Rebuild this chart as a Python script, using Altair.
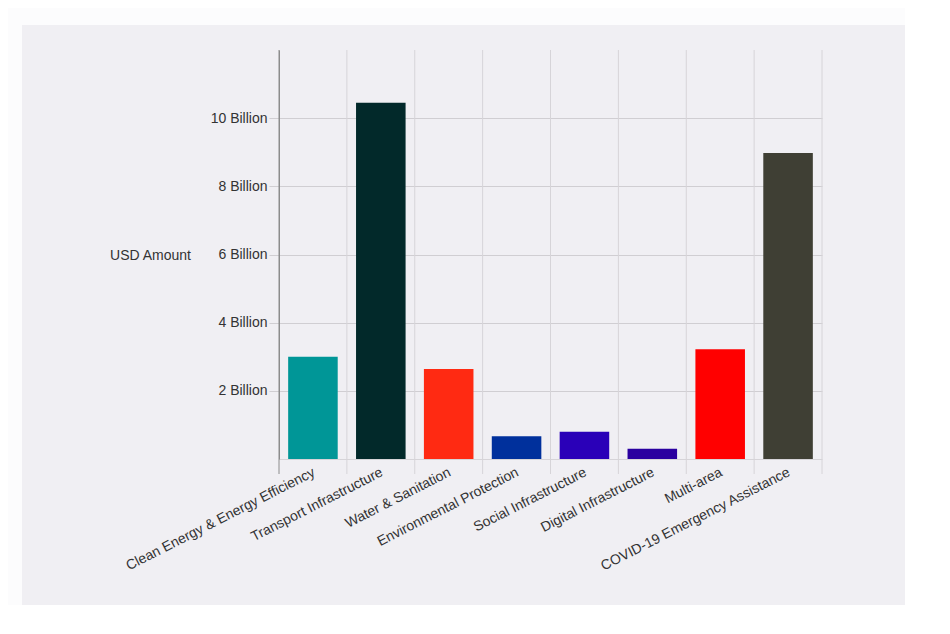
import altair as alt
import pandas as pd

categories = [
    "Clean Energy & Energy Efficiency",
    "Transport Infrastructure",
    "Water & Sanitation",
    "Environmental Protection",
    "Social Infrastructure",
    "Digital Infrastructure",
    "Multi-area",
    "COVID-19 Emergency Assistance",
]
amounts_billion = [3.0, 10.45, 2.64, 0.67, 0.8, 0.3, 3.22, 8.98]
bar_colors = ["#009697", "#02292a", "#ff2a12", "#00309c", "#2a00b8", "#2a00a0", "#ff0000", "#3f3f34"]
y_ticks = [2e9, 4e9, 6e9, 8e9, 10e9]

df = pd.DataFrame({
    "category": categories,
    "amount": [v * 1e9 for v in amounts_billion],
})

FONT = "Liberation Sans"
TXT = "#333333"
GRID = "#d6d4d8"
PLOT_W = 543
PLOT_H = 409
PAD_IN = 0.27
PAD_OUT = PAD_IN / 2
HALF_GAP = PAD_IN * (PLOT_W / len(categories)) / 2

x_scale = alt.Scale(paddingInner=PAD_IN, paddingOuter=PAD_OUT)

bars = alt.Chart(df).mark_bar().encode(
    x=alt.X(
        "category:N",
        sort=categories,
        scale=x_scale,
        axis=alt.Axis(
            title=None,
            labelAngle=-27,
            labelAlign="right",
            labelBaseline="top",
            labelFont=FONT,
            labelFontSize=14,
            labelColor=TXT,
            labelLimit=0,
            labelPadding=6,
            labelOffset=-2,
            ticks=False,
            grid=False,
            domainColor=GRID,
        ),
    ),
    y=alt.Y(
        "amount:Q",
        scale=alt.Scale(domain=[0, 12e9], nice=False),
        axis=alt.Axis(
            values=y_ticks,
            labelExpr="format(datum.value / 1e9, 'd') + ' Billion'",
            labelFont=FONT,
            labelFontSize=14,
            labelColor=TXT,
            labelPadding=2,
            tickSize=10,
            tickColor="#d0ced2",
            gridColor="#d0ced2",
            domainColor="#8c8c8c",
            title="USD Amount",
            titleAngle=0,
            titleAlign="center",
            titleBaseline="middle",
            titleX=-129,
            titleY=205,
            titleFont=FONT,
            titleFontSize=14,
            titleFontWeight="normal",
            titleColor=TXT,
        ),
    ),
    color=alt.Color(
        "category:N",
        scale=alt.Scale(domain=categories, range=bar_colors),
        legend=None,
    ),
)

# vertical grid lines at the right step boundary of each category (extend 15px below baseline)
vgrid = alt.Chart(df).mark_rule(strokeWidth=1, color=GRID, xOffset=HALF_GAP).encode(
    x=alt.X("category:N", sort=categories, scale=x_scale, bandPosition=1),
    y=alt.value(0),
    y2=alt.value(PLOT_H + 15),
)
first_line = alt.Chart(pd.DataFrame({"k": [0]})).mark_rule(color="#8c8c8c", strokeWidth=1).encode(
    x=alt.value(0), y=alt.value(0), y2=alt.value(PLOT_H + 15)
)

strip_df = pd.DataFrame({"k": [0]})
left_strip = alt.Chart(strip_df).mark_rect(color="#fcfcfd").encode(
    x=alt.value(-271), x2=alt.value(-257), y=alt.value(-42), y2=alt.value(555)
)
top_strip = alt.Chart(strip_df).mark_rect(color="#fcfcfd").encode(
    x=alt.value(-271), x2=alt.value(626), y=alt.value(-42), y2=alt.value(-25)
)

chart = alt.layer(left_strip, top_strip, vgrid, first_line, bars).properties(
    width=PLOT_W,
    height=PLOT_H,
    padding={"left": 271, "top": 42, "right": 83, "bottom": 146},
    autosize=alt.AutoSizeParams(type="none"),
    background="#f0eff3",
).configure_view(stroke=None)

chart.save("out.html", embed_options={"renderer": "svg", "actions": False})
